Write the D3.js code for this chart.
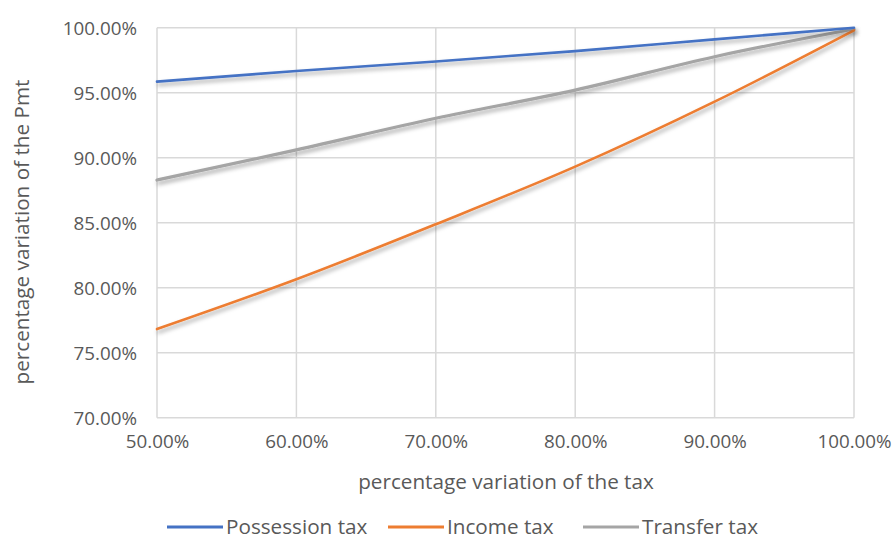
<!DOCTYPE html>
<html><head><meta charset="utf-8">
<script src="https://cdn.jsdelivr.net/npm/d3@7"></script>
<style>body{margin:0;background:#fff}svg{display:block}text{font-family:"Open Sans",sans-serif;fill:#595959}</style>
</head><body>
<svg id="c" width="892" height="541"></svg>
<script>
const xValues = [0.5, 0.6, 0.7, 0.8, 0.9, 1.0];
const possessionTax = [0.9585, 0.9667, 0.9740, 0.9820, 0.9910, 1.0];
const incomeTax = [0.7682, 0.8065, 0.8488, 0.8931, 0.9431, 0.998];
const transferTax = [0.8828, 0.9060, 0.9303, 0.9520, 0.9777, 0.999];
const seriesNames = ["Possession tax", "Income tax", "Transfer tax"];
const seriesColors = ["#4472C4", "#ED7D31", "#A5A5A5"];
const xTicks = [0.5, 0.6, 0.7, 0.8, 0.9, 1.0];
const yTicks = [0.70, 0.75, 0.80, 0.85, 0.90, 0.95, 1.00];

const svg = d3.select("#c");
const L = 157, R = 854, T = 27.7, B = 417.7;
const x = d3.scaleLinear().domain([0.5, 1.0]).range([L, R]);
const y = d3.scaleLinear().domain([0.7, 1.0]).range([B, T]);

const defs = svg.append("defs");
const f = defs.append("filter").attr("id", "sh").attr("x", "-10%").attr("y", "-10%").attr("width", "120%").attr("height", "140%");
f.append("feDropShadow").attr("dx", 1.5).attr("dy", 3).attr("stdDeviation", 2).attr("flood-color", "#000").attr("flood-opacity", 0.35);

// grid
svg.append("g").selectAll("line").data(yTicks).join("line")
  .attr("x1", L).attr("x2", R).attr("y1", d => y(d)).attr("y2", d => y(d))
  .attr("stroke", "#D9D9D9").attr("stroke-width", 1.5);
svg.append("g").selectAll("line").data(xTicks).join("line")
  .attr("y1", T).attr("y2", B).attr("x1", d => x(d)).attr("x2", d => x(d))
  .attr("stroke", "#D9D9D9").attr("stroke-width", 1.5);

// axes
const fmt = d3.format(".2%");
const yAxis = svg.append("g").attr("transform", `translate(${L},0)`)
  .call(d3.axisLeft(y).tickValues(yTicks).tickFormat(fmt).tickSize(0).tickPadding(20));
yAxis.select(".domain").remove();
yAxis.selectAll("text").attr("font-size", 18.8).attr("fill", "#595959").attr("font-family", "Open Sans").attr("dy", "0.35em");
const xAxis = svg.append("g").attr("transform", `translate(0,${B})`)
  .call(d3.axisBottom(x).tickValues(xTicks).tickFormat(fmt).tickSize(0).tickPadding(17));
xAxis.select(".domain").remove();
xAxis.selectAll("text").attr("font-size", 18.8).attr("fill", "#595959").attr("font-family", "Open Sans");

// lines
const data = [possessionTax, incomeTax, transferTax];
const line = d3.line().x((d, i) => x(xValues[i])).y(d => y(d)).curve(d3.curveMonotoneX);
const order = [2, 1, 0];
order.forEach(k => {
  svg.append("path").datum(data[k]).attr("d", line).attr("fill", "none")
    .attr("stroke", seriesColors[k]).attr("stroke-width", k === 2 ? 3.2 : 2.6)
    .attr("stroke-linecap", "round").attr("filter", "url(#sh)");
});

// axis titles
svg.append("text").attr("x", 506).attr("y", 489).attr("text-anchor", "middle").attr("font-size", 20.7)
  .text("percentage variation of the tax");
svg.append("text").attr("transform", "translate(29,232) rotate(-90)").attr("text-anchor", "middle").attr("font-size", 20.7)
  .text("percentage variation of the Pmt");

// legend
const legX = [167, 388, 583];
seriesNames.forEach((n, i) => {
  const g = svg.append("g").attr("transform", `translate(${legX[i]},527)`);
  g.append("line").attr("x1", 0).attr("x2", 56).attr("stroke", seriesColors[i]).attr("stroke-width", 3);
  g.append("text").attr("x", 59).attr("y", 0).attr("dy", "0.35em").attr("font-size", 20.7).text(n);
});
</script>
</body></html>
